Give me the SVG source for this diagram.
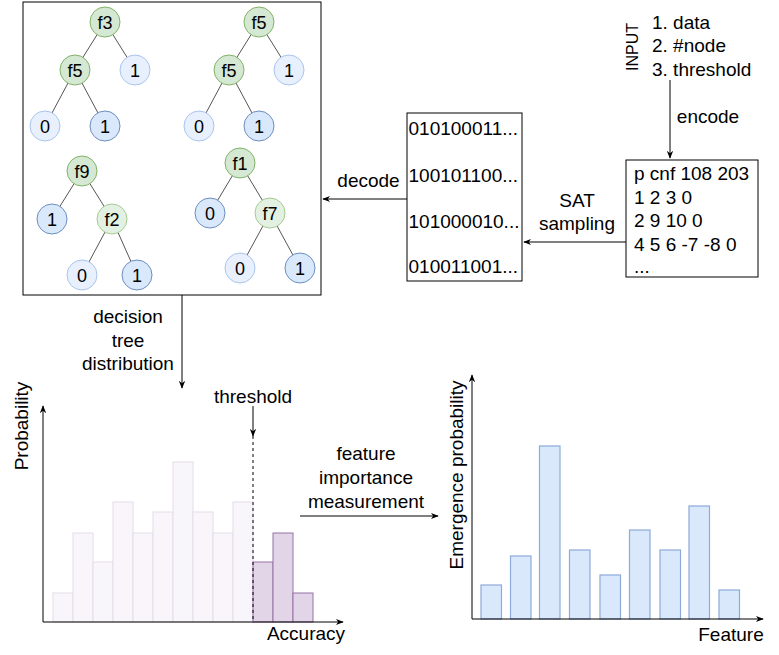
<svg xmlns="http://www.w3.org/2000/svg" width="779" height="655" viewBox="0 0 779 655">
<defs>
<marker id="arr" viewBox="0 0 10 10" refX="9" refY="5" markerWidth="8" markerHeight="8" markerUnits="userSpaceOnUse" orient="auto">
<path d="M0,1 L10,5 L0,9 L3,5 Z" fill="#000"/>
</marker>
<style>
text{font-family:"Liberation Sans",Arial,sans-serif;fill:#000;}
.t19{font-size:19px;}
.t18{font-size:18px;}
.t16{font-size:16px;}
.mid{text-anchor:middle;}
.box{fill:#fff;stroke:#000;stroke-width:1;}
.edge{stroke:#555;stroke-width:1;fill:none;}
.g1{fill:#d5e8d4;stroke:#82b366;stroke-width:1;}
.g2{fill:#e3f1e2;stroke:#a6ca94;stroke-width:1;}
.b1{fill:#dae8fc;stroke:#6c8ebf;stroke-width:1;}
.b2{fill:#e8f0fd;stroke:#a9c4eb;stroke-width:1;}
.line{stroke:#000;stroke-width:1;fill:none;}
.hl{fill:#f8f6fa;stroke:#e6dcea;stroke-width:1;}
.hp{fill:#e1d5e7;stroke:#9673a6;stroke-width:1;}
.eb{fill:#dae8fc;stroke:#8eaadb;stroke-width:1.2;}
</style>
</defs>

<g id="tree-box">
<rect class="box" x="23" y="2" width="298" height="293"/>
</g>

<g id="tree-edges">
<path class="edge" d="M105,22 L75,70 M105,22 L135,70 M75,70 L45,126 M75,70 L105,126"/>
<path class="edge" d="M259,22 L229,70 M259,22 L289,70 M229,70 L199,126 M229,70 L259,126"/>
<path class="edge" d="M82,171 L52,219 M82,171 L112,219 M112,219 L82,275 M112,219 L137,275"/>
<path class="edge" d="M240,163 L210,213 M240,163 L270,213 M270,213 L240,268 M270,213 L300,268"/>
</g>

<g id="tree1">
<circle class="g1" cx="105" cy="22" r="15"/><text class="t18 mid" x="105" y="28.5">f3</text>
<circle class="g1" cx="75" cy="70" r="15"/><text class="t18 mid" x="75" y="76.5">f5</text>
<circle class="b2" cx="135" cy="70" r="15"/><text class="t18 mid" x="135" y="76.5">1</text>
<circle class="b2" cx="45" cy="126" r="15"/><text class="t18 mid" x="45" y="132.5">0</text>
<circle class="b1" cx="105" cy="126" r="15"/><text class="t18 mid" x="105" y="132.5">1</text>
</g>
<g id="tree2">
<circle class="g1" cx="259" cy="22" r="15"/><text class="t18 mid" x="259" y="28.5">f5</text>
<circle class="g1" cx="229" cy="70" r="15"/><text class="t18 mid" x="229" y="76.5">f5</text>
<circle class="b2" cx="289" cy="70" r="15"/><text class="t18 mid" x="289" y="76.5">1</text>
<circle class="b2" cx="199" cy="126" r="15"/><text class="t18 mid" x="199" y="132.5">0</text>
<circle class="b1" cx="259" cy="126" r="15"/><text class="t18 mid" x="259" y="132.5">1</text>
</g>
<g id="tree3">
<circle class="g1" cx="82" cy="171" r="15"/><text class="t18 mid" x="82" y="177.5">f9</text>
<circle class="b1" cx="52" cy="219" r="15"/><text class="t18 mid" x="52" y="225.5">1</text>
<circle class="g2" cx="112" cy="219" r="15"/><text class="t18 mid" x="112" y="225.5">f2</text>
<circle class="b2" cx="82" cy="275" r="15"/><text class="t18 mid" x="82" y="281.5">0</text>
<circle class="b1" cx="137" cy="275" r="15"/><text class="t18 mid" x="137" y="281.5">1</text>
</g>
<g id="tree4">
<circle class="g1" cx="240" cy="163" r="15"/><text class="t18 mid" x="240" y="169.5">f1</text>
<circle class="b1" cx="210" cy="213" r="15"/><text class="t18 mid" x="210" y="219.5">0</text>
<circle class="g2" cx="270" cy="213" r="15"/><text class="t18 mid" x="270" y="219.5">f7</text>
<circle class="b2" cx="240" cy="268" r="15"/><text class="t18 mid" x="240" y="274.5">0</text>
<circle class="b1" cx="300" cy="268" r="15"/><text class="t18 mid" x="300" y="274.5">1</text>
</g>

<g id="input">
<text class="t16 mid" transform="translate(638,47) rotate(-90)" x="0" y="0">INPUT</text>
<text class="t19" x="652" y="29">1. data</text>
<text class="t19" x="652" y="52">2. #node</text>
<text class="t19" x="652" y="76">3. threshold</text>
</g>

<g id="cnf">
<rect class="box" x="626" y="160" width="132" height="117"/>
<text class="t19" x="634" y="180">p cnf 108 203</text>
<text class="t19" x="634" y="203.5">1 2 3 0</text>
<text class="t19" x="634" y="227">2 9 10 0</text>
<text class="t19" x="634" y="250.5">4 5 6 -7 -8 0</text>
<text class="t19" x="634" y="273">...</text>
</g>

<g id="samples">
<rect class="box" x="407" y="113" width="115" height="168"/>
<text class="t19" x="408.5" y="135">010100011...</text>
<text class="t19" x="408.5" y="181.5">100101100...</text>
<text class="t19" x="408.5" y="227.5">101000010...</text>
<text class="t19" x="408.5" y="273">010011001...</text>
</g>

<g id="connectors">
<line class="line" x1="670" y1="80" x2="670" y2="158" marker-end="url(#arr)"/>
<line class="line" x1="626" y1="242" x2="524" y2="242" marker-end="url(#arr)"/>
<line class="line" x1="407" y1="199" x2="323" y2="199" marker-end="url(#arr)"/>
<line class="line" x1="182" y1="295" x2="182" y2="388" marker-end="url(#arr)"/>
<line class="line" x1="253" y1="406" x2="253" y2="436" marker-end="url(#arr)"/>
<line class="line" x1="300" y1="516" x2="438" y2="516" marker-end="url(#arr)"/>
</g>

<g id="labels">
<text class="t19 mid" x="708" y="123">encode</text>
<text class="t19 mid" x="577" y="207">SAT</text>
<text class="t19 mid" x="577" y="230">sampling</text>
<text class="t19 mid" x="368.5" y="187">decode</text>
<text class="t19 mid" x="128" y="323">decision</text>
<text class="t19 mid" x="128" y="347">tree</text>
<text class="t19 mid" x="128" y="370">distribution</text>
<text class="t19 mid" x="253" y="403">threshold</text>
<text class="t19 mid" x="366" y="460">feature</text>
<text class="t19 mid" x="366" y="484">importance</text>
<text class="t19 mid" x="366" y="508">measurement</text>
</g>

<g id="accuracy-chart">
<rect class="hl" x="53" y="593" width="20" height="29"/>
<rect class="hl" x="73" y="533" width="20" height="89"/>
<rect class="hl" x="93" y="562" width="20" height="60"/>
<rect class="hl" x="113" y="502" width="20" height="120"/>
<rect class="hl" x="133" y="533" width="20" height="89"/>
<rect class="hl" x="153" y="512" width="20" height="110"/>
<rect class="hl" x="173" y="462" width="20" height="160"/>
<rect class="hl" x="193" y="512" width="20" height="110"/>
<rect class="hl" x="213" y="533" width="20" height="89"/>
<rect class="hl" x="233" y="502" width="20" height="120"/>
<rect class="hp" x="253" y="562" width="20" height="60"/>
<rect class="hp" x="273" y="533" width="20" height="89"/>
<rect class="hp" x="293" y="593" width="20" height="29"/>
<line x1="253" y1="436" x2="253" y2="622" stroke="#000" stroke-width="1" stroke-dasharray="3,3"/>
<line class="line" x1="43" y1="622" x2="43" y2="406" marker-end="url(#arr)"/>
<line class="line" x1="43" y1="622" x2="343" y2="622" marker-end="url(#arr)"/>
<text class="t19 mid" transform="translate(28,426) rotate(-90)" x="0" y="0">Probability</text>
<text class="t19 mid" x="306" y="640">Accuracy</text>
</g>

<g id="feature-chart">
<rect class="eb" x="481" y="585" width="20.5" height="34"/>
<rect class="eb" x="510.5" y="556" width="20.5" height="63"/>
<rect class="eb" x="539.5" y="446" width="20.5" height="173"/>
<rect class="eb" x="569.5" y="550" width="20.5" height="69"/>
<rect class="eb" x="600" y="575" width="20.5" height="44"/>
<rect class="eb" x="629.5" y="530" width="20.5" height="89"/>
<rect class="eb" x="660" y="550" width="20.5" height="69"/>
<rect class="eb" x="689" y="506" width="20.5" height="113"/>
<rect class="eb" x="719" y="590" width="20.5" height="29"/>
<line class="line" x1="472" y1="619" x2="472" y2="375" marker-end="url(#arr)"/>
<line class="line" x1="472" y1="619" x2="763" y2="619" marker-end="url(#arr)"/>
<text class="t19 mid" transform="translate(463,475) rotate(-90)" x="0" y="0">Emergence probability</text>
<text class="t19 mid" x="731" y="641">Feature</text>
</g>
</svg>
